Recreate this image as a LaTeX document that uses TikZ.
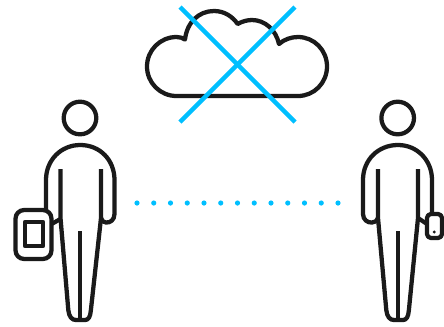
\documentclass[tikz,border=0pt]{standalone}
\definecolor{ink}{HTML}{1A1A1A}
\definecolor{sky}{HTML}{00BFFF}
\tikzset{
  outline/.style={draw=ink,line width=3.2pt,line cap=butt,line join=round},
  crossline/.style={draw=sky,line width=3.2pt},
  dotmark/.style={fill=sky,draw=none}
}
\begin{document}
\begin{tikzpicture}[x=0.75pt,y=-0.75pt]
\useasboundingbox (0,0) rectangle (444,326);
% cloud
\draw[outline] (176.5,96) arc[start angle=90,end angle=270,radius=29.5]
  .. controls (180,37) and (183,38) .. (185,39.5)
  .. controls (187,22) and (199,11) .. (214,11)
  .. controls (224,11) and (232,16) .. (237.7,24)
  .. controls (242,21.5) and (247,20) .. (252,20)
  .. controls (265,20) and (276,30) .. (279,44)
  .. controls (284,39.5) and (291,37) .. (298,37)
  .. controls (314,37) and (327,50) .. (327,66.5)
  .. controls (327,83) and (314,96) .. (298,96)
  -- cycle;
\draw[crossline] (180,7) -- (295,122);
\draw[crossline] (295,7) -- (180,122);
% dots
\foreach \i in {0,...,12} \fill[dotmark] (137+\i*16.75,203) circle[radius=2.6];
% left person
\draw[outline] (80,118) circle[radius=16.3];
\draw[outline] (60.5,169) -- (60.5,218) -- (68.3,310)
  .. controls (69,317) and (72,320) .. (76,320)
  -- (85,320)
  .. controls (88.5,320) and (90.3,317) .. (90.9,310)
  -- (101,218) -- (101,169);
\draw[outline] (80.3,231) -- (80.3,320);
\draw[outline] (46,210) -- (46,180)
  .. controls (46,160) and (61,145) .. (80.3,145)
  .. controls (100,145) and (114.5,160) .. (114.5,180)
  -- (114.5,214)
  .. controls (114.5,220) and (110,223) .. (106,222.5)
  .. controls (103.5,222.5) and (102,221) .. (101,218);
\draw[outline,rounded corners=6.5pt] (15.5,210) rectangle (51.5,259);
\draw[outline] (25,222) rectangle (43,246);
\draw[outline] (51.5,224) -- (60.5,219);
% right person
\draw[outline] (397.7,118) circle[radius=16.3];
\draw[outline] (378,169) -- (378,218) -- (386.3,310)
  .. controls (387,317) and (390,320) .. (394,320)
  -- (403,320)
  .. controls (406.5,320) and (408.3,317) .. (408.9,310)
  -- (418,218) -- (418,169);
\draw[outline] (398,231) -- (398,320);
\draw[outline] (432,214) -- (432,180)
  .. controls (432,160) and (417,145) .. (398,145)
  .. controls (378,145) and (363,160) .. (363,180)
  -- (363,214)
  .. controls (363,220) and (368,223) .. (372,222.5)
  .. controls (375,222.5) and (377,221) .. (378,218);
\draw[outline,rounded corners=3pt] (427,214) rectangle (442,238);
\fill[ink] (434.3,232) circle[radius=1.6];
\draw[outline] (418,218) -- (427,224);
\end{tikzpicture}
\end{document}
